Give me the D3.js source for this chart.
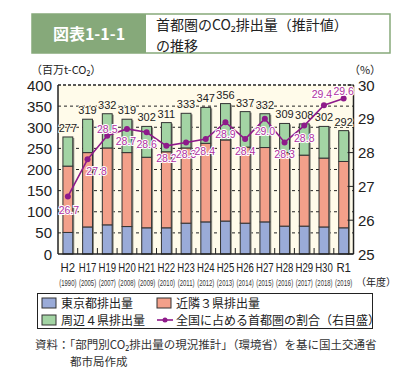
<!DOCTYPE html>
<html><head><meta charset="utf-8">
<script src="https://cdn.jsdelivr.net/npm/d3@7"></script>
<style>
html,body{margin:0;padding:0;background:#fff;}
svg{display:block;}
</style></head>
<body>
<script>
const years = ["H2","H17","H19","H20","H21","H22","H23","H24","H25","H26","H27","H28","H29","H30","R1"];
const westYears = ["1990","2005","2007","2008","2009","2010","2011","2012","2013","2014","2015","2016","2017","2018","2019"];
const tokyo  = [51,64,69,65,62,62,73,76,78,73,76,66,66,64,62];
const kinrin = [157,176,182,175,167,180,178,186,192,180,176,174,168,163,157];
const shuhen = [69,79,81,79,73,69,82,85,86,84,80,69,74,75,73];
const totals = [277,319,332,319,302,311,333,347,356,337,332,309,308,302,292];
const share  = [26.7,27.8,28.5,28.7,28.6,28.2,28.3,28.4,28.9,28.4,29.0,28.3,28.8,29.4,29.6];
const leftTicks = [0,50,100,150,200,250,300,350,400];
const rightTicks = [25,26,27,28,29,30];

const W = 404, H = 388;
const JP = "'Noto Sans CJK JP', 'Noto Sans', sans-serif";
const NUM = "'Liberation Sans', Arial, sans-serif";
const svg = d3.select("body").append("svg").attr("width", W).attr("height", H);

// Title
svg.append("rect").attr("x",32).attr("y",14).attr("width",358).attr("height",39)
  .attr("fill","#fff").attr("stroke","#86a97a").attr("stroke-width",1.5);
svg.append("rect").attr("x",32).attr("y",14).attr("width",114).attr("height",39).attr("fill","#86a97a");
svg.append("text").attr("x",89).attr("y",40).attr("text-anchor","middle")
  .attr("font-family",JP).attr("font-weight","bold").attr("font-size",16).attr("fill","#fff").text("図表1-1-1");
svg.append("text").attr("x",156).attr("y",30).attr("font-family",JP).attr("font-size",14).attr("fill","#222")
  .text("首都圏のCO₂排出量（推計値）");
svg.append("text").attr("x",156).attr("y",50.5).attr("font-family",JP).attr("font-size",14).attr("fill","#222").text("の推移");

// Units
svg.append("text").attr("x",31).attr("y",74).attr("font-family",JP).attr("font-size",11).attr("fill","#222").text("（百万t-CO₂）");
svg.append("text").attr("x",365).attr("y",74).attr("text-anchor","middle").attr("font-family",JP).attr("font-size",11).attr("fill","#222").text("（%）");

// Scales
const x0 = 58, x1 = 353.5, yTop = 85, yBot = 254;
const x = d3.scaleBand().domain(years).range([x0,x1]).paddingInner(0.5).paddingOuter(0.25);
const y = d3.scaleLinear().domain([0,400]).range([yBot,yTop]);
const yr = d3.scaleLinear().domain([25,30]).range([yBot,yTop]);

// Plot background
svg.append("rect").attr("x",x0).attr("y",yTop).attr("width",x1-x0).attr("height",yBot-yTop).attr("fill","#fffbea");

// Gridlines
svg.append("g").selectAll("line").data(leftTicks.filter(d=>d>0)).join("line")
  .attr("x1",x0).attr("x2",x1).attr("y1",d=>y(d)).attr("y2",d=>y(d))
  .attr("stroke","#222").attr("stroke-width",d=>d===400?1.6:1).attr("stroke-dasharray",d=>d===400?"3,2":"3,3");

// Bars
const bw = x.bandwidth();
const stacks = years.map((yk,i)=>({k:yk, segs:[
  {y0:0, y1:tokyo[i], c:"#9aabd8"},
  {y0:tokyo[i], y1:tokyo[i]+kinrin[i], c:"#f3a08a"},
  {y0:tokyo[i]+kinrin[i], y1:tokyo[i]+kinrin[i]+shuhen[i], c:"#a3d4a4"}
]}));
const bg = svg.append("g");
bg.selectAll("rect.sh").data(stacks).join("rect").attr("class","sh")
  .attr("x",d=>x(d.k)+1.5).attr("y",d=>y(d.segs[2].y1)+1).attr("width",bw).attr("height",d=>y(0)-y(d.segs[2].y1)-1)
  .attr("fill","#8a8a80");
stacks.forEach(s=>{
  bg.selectAll(null).data(s.segs).join("rect")
    .attr("x",x(s.k)).attr("y",d=>y(d.y1)).attr("width",bw).attr("height",d=>y(d.y0)-y(d.y1))
    .attr("fill",d=>d.c).attr("stroke","#333").attr("stroke-width",1);
});

// Axes lines
svg.append("line").attr("x1",x0).attr("x2",x0).attr("y1",yTop).attr("y2",yBot).attr("stroke","#222").attr("stroke-width",1.5);
svg.append("line").attr("x1",x1).attr("x2",x1).attr("y1",yTop).attr("y2",yBot).attr("stroke","#222").attr("stroke-width",1.5);
svg.append("line").attr("x1",x0).attr("x2",x1).attr("y1",yBot).attr("y2",yBot).attr("stroke","#222").attr("stroke-width",1.5);
// bottom ticks between bars
const step = x.step();
svg.append("g").selectAll("line").data(years.slice(1)).join("line")
  .attr("x1",d=>x(d)-step*0.25).attr("x2",d=>x(d)-step*0.25).attr("y1",yBot).attr("y2",yBot-6)
  .attr("stroke","#222").attr("stroke-width",1);
// right ticks inward
svg.append("g").selectAll("line").data(rightTicks).join("line")
  .attr("x1",x1).attr("x2",x1-6).attr("y1",d=>yr(d)).attr("y2",d=>yr(d)).attr("stroke","#222").attr("stroke-width",1);

// Tick labels
svg.append("g").selectAll("text").data(leftTicks).join("text")
  .attr("x",52).attr("y",d=>y(d)+5.5).attr("text-anchor","end").attr("font-family",NUM).attr("font-size",15).attr("fill","#222").text(d=>d);
svg.append("g").selectAll("text").data(rightTicks).join("text")
  .attr("x",358).attr("y",d=>yr(d)+5.5).attr("font-family",NUM).attr("font-size",15).attr("fill","#222").text(d=>d);

// X labels (horizontally condensed via transform)
svg.append("g").selectAll("text").data(years).join("text")
  .attr("transform",d=>`translate(${x(d)+bw/2},272) scale(${d.length>2?0.8:0.95},1)`)
  .attr("text-anchor","middle").attr("font-family",NUM).attr("font-size",12)
  .attr("fill","#222").text(d=>d);
svg.append("g").selectAll("text").data(westYears).join("text")
  .attr("transform",(d,i)=>`translate(${x(years[i])+bw/2},285.5) scale(0.7,1)`)
  .attr("text-anchor","middle").attr("font-family",NUM).attr("font-size",8.5)
  .attr("fill","#333").text(d=>"("+d+")");
svg.append("text").attr("x",356).attr("y",286).attr("font-family",JP).attr("font-size",10).attr("fill","#222").text("（年度）");

// Total labels
svg.append("g").selectAll("text").data(totals).join("text")
  .attr("x",(d,i)=>x(years[i])+bw/2).attr("y",d=>y(d)-5).attr("text-anchor","middle")
  .attr("font-family",NUM).attr("font-size",11).attr("fill","#222")
  .attr("stroke","#fffbea").attr("stroke-width",2).attr("paint-order","stroke").text(d=>d);

// Share line
const purple = "#8e1a8a";
const line = d3.line().x((d,i)=>x(years[i])+bw/2).y(d=>yr(d));
svg.append("path").datum(share).attr("d",line).attr("fill","none").attr("stroke",purple).attr("stroke-width",1.6);
svg.append("g").selectAll("circle").data(share).join("circle")
  .attr("cx",(d,i)=>x(years[i])+bw/2).attr("cy",d=>yr(d)).attr("r",3).attr("fill",purple);
const offs = [[1,13],[9,12],[0,-7],[-1,12],[0,12],[0,12],[0,12],[-1,12],[0,12],[0,12],[0,12],[0,12],[0,12],[-2,-11],[0,-8]];
svg.append("g").selectAll("text").data(share).join("text")
  .attr("x",(d,i)=>x(years[i])+bw/2+offs[i][0]).attr("y",(d,i)=>yr(d)+offs[i][1]+4)
  .attr("text-anchor","middle").attr("font-family",NUM).attr("font-size",10.5).attr("fill","#b0309f")
  .attr("stroke","#fff").attr("stroke-width",2).attr("paint-order","stroke").text(d=>d.toFixed(1));

// Legend
svg.append("rect").attr("x",37.5).attr("y",293.5).attr("width",335).attr("height",35).attr("fill","#fff").attr("stroke","#222").attr("stroke-width",1);
const leg = [
  {t:"東京都排出量", c:"#9aabd8", x:42, y:298},
  {t:"近隣３県排出量", c:"#f3a08a", x:157, y:298},
  {t:"周辺４県排出量", c:"#a3d4a4", x:42, y:315}
];
leg.forEach(l=>{
  svg.append("rect").attr("x",l.x).attr("y",l.y).attr("width",14).attr("height",10).attr("fill",l.c).attr("stroke","#333");
  svg.append("text").attr("x",l.x+19).attr("y",l.y+10).attr("font-family",JP).attr("font-size",12).attr("fill","#222").text(l.t);
});
svg.append("line").attr("x1",157).attr("x2",173).attr("y1",320).attr("y2",320).attr("stroke",purple).attr("stroke-width",1.6);
svg.append("circle").attr("cx",165).attr("cy",320).attr("r",2.5).attr("fill",purple);
svg.append("text").attr("x",176).attr("y",325).attr("font-family",JP).attr("font-size",12).attr("fill","#222").text("全国に占める首都圏の割合（右目盛）");

// Source
svg.append("text").attr("x",35).attr("y",349).attr("font-family",JP).attr("font-size",11.5).attr("fill","#333")
  .text("資料：「部門別CO₂排出量の現況推計」（環境省）を基に国土交通省");
svg.append("text").attr("x",70).attr("y",366).attr("font-family",JP).attr("font-size",11.5).attr("fill","#333").text("都市局作成");
</script>
</body></html>
